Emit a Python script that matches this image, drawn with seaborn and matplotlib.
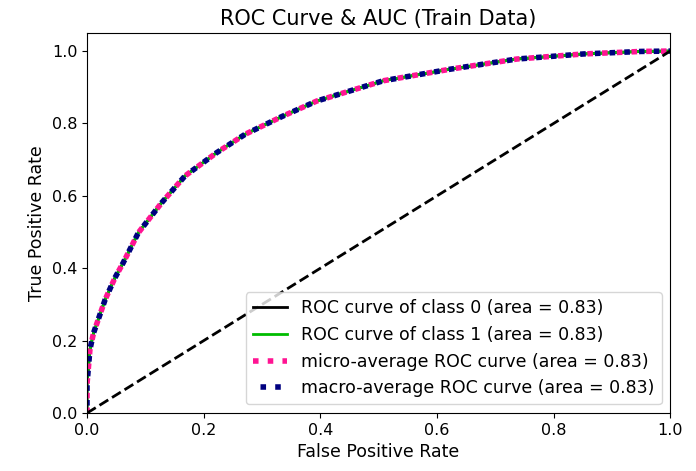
import matplotlib
matplotlib.use("Agg")
import matplotlib.pyplot as plt
import seaborn as sns
import pandas as pd

fpr = [0.0, 0.0, 0.005, 0.011, 0.031, 0.048, 0.062, 0.088, 0.128, 0.168, 0.222,
       0.271, 0.334, 0.394, 0.508, 0.623, 0.737, 0.851, 0.95, 1.0]
tpr = [0.0, 0.08, 0.175, 0.22, 0.313, 0.374, 0.415, 0.498, 0.581, 0.655, 0.719,
       0.770, 0.819, 0.862, 0.918, 0.950, 0.978, 0.992, 0.999, 1.0]
labels = ["ROC curve of class 0 (area = 0.83)",
          "ROC curve of class 1 (area = 0.83)",
          "micro-average ROC curve (area = 0.83)",
          "macro-average ROC curve (area = 0.83)"]
diag = [0.0, 1.0]

df = pd.DataFrame({"fpr": fpr, "tpr": tpr})

fig = plt.figure(figsize=(6.96, 4.71), dpi=100)
ax = fig.add_axes([0.125, 0.123, 0.838, 0.807])

class1_color = plt.cm.nipy_spectral(0.5)
sns.lineplot(data=df, x="fpr", y="tpr", sort=False, estimator=None, ax=ax,
             color="black", lw=2, label=labels[0])
sns.lineplot(data=df, x="fpr", y="tpr", sort=False, estimator=None, ax=ax,
             color=class1_color, lw=2, label=labels[1])
sns.lineplot(data=df, x="fpr", y="tpr", sort=False, estimator=None, ax=ax,
             color="deeppink", lw=4, linestyle=":", label=labels[2])
sns.lineplot(data=df, x="fpr", y="tpr", sort=False, estimator=None, ax=ax,
             color="navy", lw=4, linestyle=(1.3, (1, 1.65)), label=labels[3])
sns.lineplot(x=diag, y=diag, ax=ax, color="black", lw=2, linestyle="--")

ax.set_xlim(0.0, 1.0)
ax.set_ylim(0.0, 1.05)
ax.set_title("ROC Curve & AUC (Train Data)", fontsize=15)
ax.set_xlabel("False Positive Rate", fontsize=12.5)
ax.set_ylabel("True Positive Rate", fontsize=12.5)
ax.tick_params(labelsize=11.5)
ax.legend(loc="lower right", fontsize=12.5)

fig.savefig("out.png", dpi=100)
